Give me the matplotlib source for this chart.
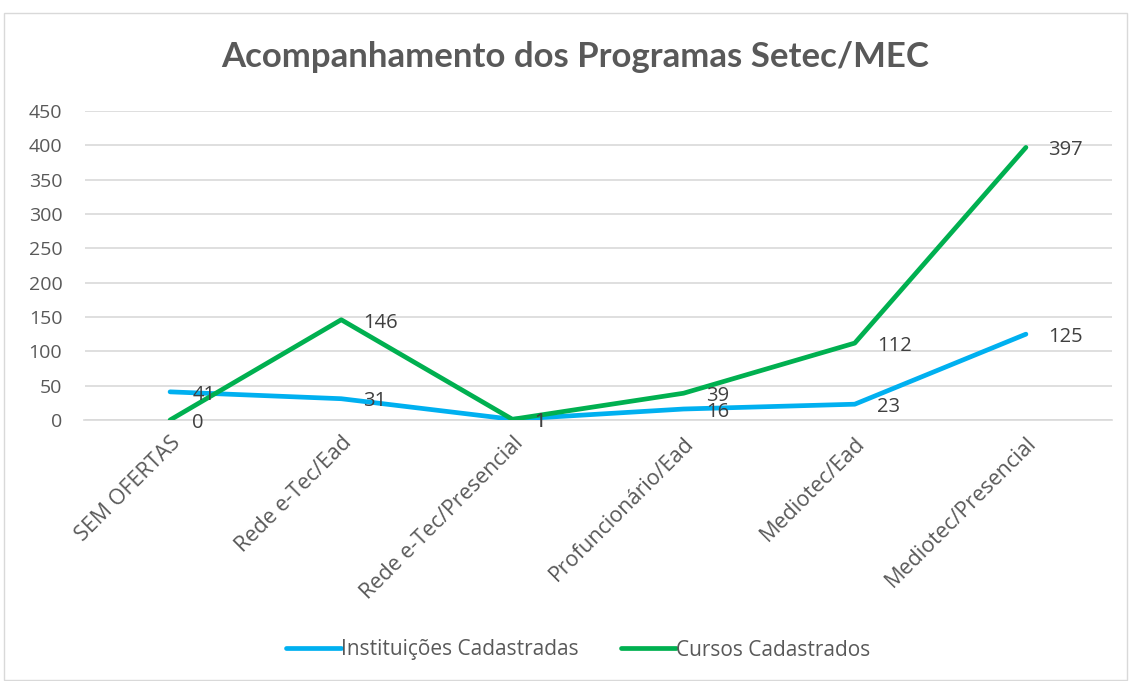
import matplotlib.pyplot as plt
from matplotlib.patches import Rectangle

categorias = ["SEM OFERTAS", "Rede e-Tec/Ead", "Rede e-Tec/Presencial",
              "Profuncionário/Ead", "Mediotec/Ead", "Mediotec/Presencial"]
instituicoes = [41, 31, 1, 16, 23, 125]
cursos = [0, 146, 1, 39, 112, 397]
yticks = [0, 50, 100, 150, 200, 250, 300, 350, 400, 450]

plt.rcParams['font.family'] = ['Open Sans', 'DejaVu Sans']
cinza = "#595959"

fig = plt.figure(figsize=(11.3, 6.81), dpi=100)
ax = fig.add_axes([84.5 / 1130, 1 - 420 / 681, (1111.5 - 84.5) / 1130, (420 - 111) / 681])

x = list(range(len(categorias)))
ax.plot(x, instituicoes, color="#00B0F0", lw=3.4, solid_capstyle="round",
        label="Instituições Cadastradas", zorder=3)
ax.plot(x, cursos, color="#00B050", lw=3.4, solid_capstyle="round",
        label="Cursos Cadastrados", zorder=3)

for serie in (instituicoes, cursos):
    for xi, v in zip(x, serie):
        ax.annotate(str(v), (xi, v), xytext=(16, -2), textcoords="offset points",
                    ha="left", va="center", fontsize=14.5, color="#404040", zorder=4)

ax.set_xlim(-0.5, len(categorias) - 0.5)
ax.set_ylim(0, 450)
ax.set_yticks(yticks)
ax.set_xticks(x)
ax.set_xticklabels(categorias, rotation=45, ha="right", rotation_mode="anchor",
                   fontsize=15.5)
ax.tick_params(axis="both", length=0, labelcolor=cinza)
ax.tick_params(axis="y", pad=16, labelsize=14)
ax.tick_params(axis="x", pad=9)
ax.grid(axis="y", color="#D9D9D9", lw=1.2)
ax.set_axisbelow(True)
for s in ["top", "right", "left"]:
    ax.spines[s].set_visible(False)
ax.spines["bottom"].set_color("#D9D9D9")
ax.spines["bottom"].set_linewidth(1.2)

fig.text(575 / 1130, 1 - 57 / 681, "Acompanhamento dos Programas Setec/MEC",
         ha="center", va="center", fontsize=25, fontweight="bold", color=cinza,
         family=["Lato", "DejaVu Sans"])

fig.legend(loc="center", bbox_to_anchor=(578 / 1130, 1 - 650 / 681), ncol=2,
           frameon=False, fontsize=15, labelcolor=cinza, handlelength=2.65,
           handletextpad=0.0, columnspacing=2.0)

fig.patches.append(Rectangle((4 / 1130, 1 / 681), 1123 / 1130, 667 / 681,
                             transform=fig.transFigure, fill=False,
                             edgecolor="#D9D9D9", lw=1))

fig.savefig("out.png", dpi=100)
